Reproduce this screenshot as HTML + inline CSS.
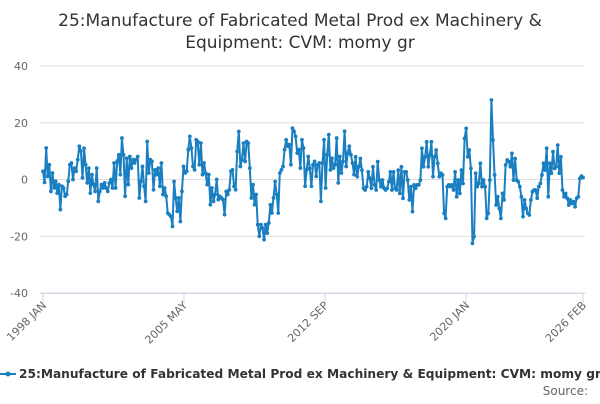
<!DOCTYPE html>
<html><head><meta charset="utf-8"><style>
body{margin:0;background:#fff;width:600px;height:400px;overflow:hidden;font-family:"DejaVu Sans",sans-serif}
svg text{font-family:"DejaVu Sans",sans-serif}
</style></head><body>
<svg id="c" width="600" height="400" xmlns="http://www.w3.org/2000/svg">
<text x="300" y="26" text-anchor="middle" font-size="17" fill="#333">25:Manufacture of Fabricated Metal Prod ex Machinery &amp;</text>
<text x="300" y="48" text-anchor="middle" font-size="17" fill="#333">Equipment: CVM: momy gr</text>
<g id="grid"></g><g id="xax"></g><g id="series"></g>
<g>
<line x1="0" y1="374" x2="16" y2="374" stroke="#1a7fc1" stroke-width="2"/>
<circle cx="8" cy="374" r="2.5" fill="#1a7fc1"/>
<text x="19" y="378" font-size="12.2" font-weight="bold" fill="#333">25:Manufacture of Fabricated Metal Prod ex Machinery &amp; Equipment: CVM: momy gr</text>
</g>
<text x="588" y="395" text-anchor="end" font-size="12" fill="#666">Source:</text>
</svg>
<script>
const yTicks=[40,20,0,-20,-40];
const xTickLabels=["1998 JAN","2005 MAY","2012 SEP","2020 JAN","2026 FEB"];
const xTickIdx=[0,88,176,264,337];
const values=[2.9,-1,11.1,1.1,5.2,-4.2,2.3,-3,-0.6,-4.8,-1.8,-10.6,-2.4,-3,-5.9,-5.3,-0.6,5.2,5.8,0,4,2.9,7,11.7,10,0.6,11,5.2,-1.2,4,-4.8,1.7,-1.8,-4.2,4,-7.7,-4.2,-1.8,-3,-1.2,-3,-4.2,-1.2,0,-3,5.8,
-3,6.4,8.7,1.7,14.6,8.7,-5.9,7.5,-1.8,8.1,4,7,5.8,7,8.1,-6.5,-0.7,4.6,-2.4,-7.7,13.4,2.3,7,6.4,-3.6,3.4,1.7,4,-2.4,5.8,-5.3,-3,-5.9,-11.8,-12.4,-13,-16.5,-0.7,-6.5,-11.2,-6.5,-14.8,-4.2,4.6,2.3,2.9,10.5,15.2,11.1,4.6,3.4,14,
13.4,5.2,12.8,1.7,5.8,2.3,-1.8,1.7,-8.9,-3,-7.7,-5.3,0,-7.1,-5.9,-6.5,-7.1,-12.4,-4.2,-5.3,-3.6,2.9,3.4,-2.4,-3.6,9.9,16.9,4.6,7,12.8,6.4,13.4,12.8,4,-6.5,-1.8,-8.9,-5.3,-15.9,-20,-15.9,-17.1,-21.2,-15.9,-18.9,-15.3,-8.9,-11.8,-6.5,-0.7,
-5.3,-11.8,2.3,3.4,4.6,10.5,14,11.7,12.3,5.2,18.1,17,15.2,9.3,10.5,4,14,11.1,-2.4,3.4,8.1,4,-2.4,5.2,6.4,1.1,5.2,5.8,-7.7,5.8,14,-3,8.7,15.8,3.4,7.5,4,5.2,14.6,-1.2,8.1,2.3,6.4,17,4.6,9.3,11.7,8.7,5.8,1.7,
8,1,4.5,7.4,3.3,-3.1,-3.7,-2.5,2.7,0.4,-3.1,4.5,-1.9,-3.7,6.3,-0.2,-2.5,-0.2,-3.1,-3.7,-3.1,-0.8,2.7,-3.7,2.7,-3.1,-3.7,3.3,-4.9,4.5,-6.6,2.7,2.7,-0.2,-7.2,-2.5,-11.3,-1.9,-3.1,-1.9,-1.9,-0.2,11,4.5,8,13.3,4.5,8.6,13.3,1,8,10.4,5.7,1,2.2,1.6,-11.9,-13.7,-2.5,-1.9,
-2.5,-1.9,-3.7,2.7,-6.1,-0.2,-4.9,3.3,-1.4,14.5,18,8,10.4,3.9,-22.5,-20.1,2.2,-2.5,-1.4,5.7,-2.5,-0.2,-2.5,-13.7,-11.9,-0.2,28,13.9,1.6,-9,-6.1,-10.2,-13.7,-4.9,-7.2,5.1,6.9,6.3,4.5,9.2,-0.2,7.4,-0.2,-0.8,-2.5,-6.1,-13.1,-7.2,-10.2,-11.9,-12.5,-7.2,-4.3,-3.7,-3.7,-6.6,-2.5,-1.4,1.6,5.7,3.3,11,-6.1,5.7,2.2,9.8,3.9,4.5,12.1,2.2,8,-3.7,-6.1,-4.9,-6.6,-9,-7.2,-8.4,-7.8,-9.6,-6.6,-6.1,0.4,1.2,0.7];
const NS="http://www.w3.org/2000/svg";
const X0=43,X1=583,Y0=293,Y1=66;
const N=338;
function xs(i){return X0+(X1-X0)*i/(N-1);}
function ys(v){return Y0+(Y1-Y0)*(v+40)/80;}
function mk(t,a,p){const e=document.createElementNS(NS,t);for(const k in a)e.setAttribute(k,a[k]);p.appendChild(e);return e;}
const grid=document.getElementById('grid');
yTicks.forEach(t=>{
 const l=mk('line',{x1:40,x2:585,y1:ys(t),y2:ys(t),stroke:'#e0e0e0','stroke-width':1},grid);
 
 
 const tx=mk('text',{x:28,y:ys(t)+4,'text-anchor':'end','font-size':11,fill:'#666'},grid);
 tx.textContent=t;
 
 
});
const xax=document.getElementById('xax');
mk('line',{x1:40,x2:585,y1:293.5,y2:293.5,stroke:'#ccd6eb'},xax);
xTickLabels.forEach((lab,k)=>{
 const x=xs(xTickIdx[k]);
 mk('line',{x1:x,x2:x,y1:293,y2:303,stroke:'#ccd6eb'},xax);
 const tx=mk('text',{x:x+4,y:306,'text-anchor':'end','font-size':11,fill:'#666',transform:`rotate(-45 ${x+4} 306)`},xax);
 tx.textContent=lab;
 
 
});
const s=document.getElementById('series');
const xscale=(N-1)/(values.length-1);
let d='';
values.forEach((v,i)=>{d+=(i?'L':'M')+xs(i*xscale).toFixed(1)+','+ys(v).toFixed(1);});
const p=mk('path',{d:d,fill:'none',stroke:'#1a7fc1','stroke-width':2,'stroke-linejoin':'round'},s);


values.forEach((v,i)=>{
 const c=mk('circle',{cx:xs(i*xscale),cy:ys(v),r:1.9,fill:'#1a7fc1'},s);
 
 
});
</script>
</body></html>
